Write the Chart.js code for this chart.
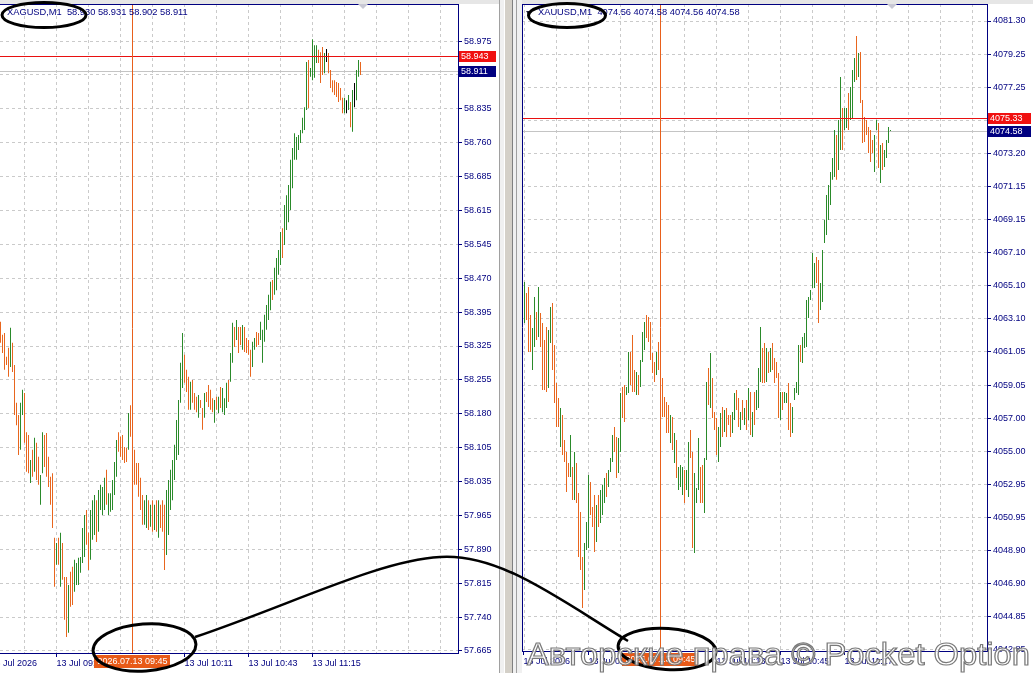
<!DOCTYPE html>
<html><head><meta charset="utf-8">
<script src="https://cdn.jsdelivr.net/npm/chart.js@4.4.1/dist/chart.umd.min.js"></script>
<style>
html,body{margin:0;padding:0;background:#fff;width:1033px;height:673px;overflow:hidden;position:relative;font-family:"Liberation Sans",Arial,sans-serif;}
#c1{position:absolute;left:0;top:0;}
#c2{position:absolute;left:514px;top:0;}
#split{position:absolute;left:499px;top:0;width:23px;height:673px;background:#f0f0f0;}
#split .a{position:absolute;left:0;top:0;width:1px;height:673px;background:#a0a0a0;}
#split .b{position:absolute;left:5px;top:0;width:7px;height:673px;background:#d4d0c8;border-left:1px solid #ffffff;border-right:1px solid #808080;}
#split .c{position:absolute;left:17px;top:0;width:1px;height:673px;background:#a0a0a0;}
#topstrip{position:absolute;left:0;top:0;width:1033px;height:4px;background:#e6e6e6;}
.ttl{position:absolute;top:7px;font-size:9.3px;line-height:10px;color:#000080;white-space:pre;}
svg{position:absolute;}
</style></head>
<body>
<div id="topstrip"></div>
<div id="split"><div class="a"></div><div class="b"></div><div class="c"></div></div>
<canvas id="c1" width="499" height="673"></canvas>
<canvas id="c2" width="519" height="673"></canvas>
<div class="ttl" style="left:7px">XAGUSD,M1  58.930 58.931 58.902 58.911</div>
<div class="ttl" style="left:538px">XAUUSD,M1  4074.56 4074.58 4074.56 4074.58</div>
<svg style="left:0;top:0" width="620" height="32" viewBox="0 0 620 32">
  <polygon points="358,4 368,4 363,9" fill="#c8c8d4"/>
  <polygon points="526,11 530,11 528,14" fill="#202040"/>
  <ellipse cx="44" cy="15" rx="42" ry="12.5" fill="none" stroke="#000" stroke-width="3"/>
  <ellipse cx="567" cy="15.5" rx="38.5" ry="12" fill="none" stroke="#000" stroke-width="3"/>
</svg>
<svg style="left:880px;top:0" width="20" height="12" viewBox="880 0 20 12">
  <polygon points="887,4 897,4 892,9" fill="#c8c8d4"/>
</svg>
<svg style="left:0;top:540px" width="1033" height="133" viewBox="0 540 1033 133">
  <ellipse cx="144.5" cy="647.5" rx="51.5" ry="23.5" fill="none" stroke="#000" stroke-width="3" transform="rotate(-4 144.5 647.5)"/>
  <ellipse cx="667" cy="649" rx="49" ry="20.5" fill="none" stroke="#000" stroke-width="3" transform="rotate(4 667 649)"/>
  <path d="M195,637 C290,605 380,560 440,557 C500,553 560,600 628,641" fill="none" stroke="#000" stroke-width="2.5"/>
  <text x="527" y="665" font-family="Liberation Sans, Arial, sans-serif" font-size="31" textLength="503" lengthAdjust="spacingAndGlyphs" fill="#ffffff" fill-opacity="0.8" stroke="#7a7a7a" stroke-width="1.2">Авторские права © Pocket Option</text>
</svg>
<script>
// ---------- XAGUSD, M1 ----------
const silverHigh = [
58.372,58.344,58.348,58.297,58.316,58.359,58.327,58.279,58.198,58.172,
58.198,58.226,58.219,58.135,58.129,58.075,58.097,58.123,58.112,58.082,
58.043,58.135,58.129,58.133,58.082,58.039,58.047,57.908,57.897,57.908,
57.919,57.897,57.824,57.824,57.807,57.835,57.846,57.861,57.854,57.865,
57.867,57.929,57.957,57.968,57.919,57.968,57.989,58.000,57.989,58.011,
58.022,58.017,58.037,58.054,58.004,58.004,58.032,58.071,58.118,58.135,
58.125,58.129,58.103,58.101,58.176,58.193,58.140,58.097,58.069,58.069,
58.037,58.000,57.989,58.000,57.989,57.979,57.989,57.979,57.989,57.989,
57.979,57.989,57.979,58.011,58.032,58.054,58.075,58.108,58.161,58.204,
58.284,58.348,58.301,58.269,58.254,58.243,58.247,58.219,58.211,58.215,
58.204,58.187,58.219,58.221,58.236,58.226,58.208,58.204,58.211,58.211,
58.232,58.230,58.208,58.241,58.247,58.305,58.370,58.361,58.376,58.361,
58.361,58.365,58.361,58.337,58.333,58.312,58.329,58.337,58.350,58.348,
58.372,58.355,58.387,58.408,58.430,58.458,58.462,58.488,58.509,58.526,
58.565,58.573,58.623,58.644,58.666,58.720,58.745,58.777,58.769,58.773,
58.784,58.810,58.833,58.930,58.934,58.917,58.979,58.966,58.966,58.956,
58.951,58.962,58.949,58.958,58.949,58.913,58.891,58.891,58.887,58.885,
58.874,58.853,58.853,58.848,58.859,58.844,58.870,58.885,58.913,58.934,58.930];
const silverLow = [
58.327,58.305,58.269,58.279,58.254,58.275,58.264,58.172,58.150,58.086,
58.097,58.172,58.112,58.050,58.047,58.026,58.039,58.050,58.032,58.022,
57.979,58.047,58.060,58.039,58.017,57.979,57.929,57.803,57.850,57.850,
57.803,57.818,57.732,57.695,57.704,57.760,57.764,57.792,57.807,57.807,
57.833,57.854,57.867,57.893,57.839,57.861,57.904,57.914,57.899,57.921,
57.968,57.957,57.968,57.979,57.957,57.964,57.968,58.000,58.039,58.093,
58.082,58.075,58.069,58.071,58.097,58.125,58.075,58.022,58.022,57.996,
57.968,57.936,57.936,57.929,57.925,57.932,57.921,57.925,57.921,57.908,
57.929,57.921,57.839,57.871,57.914,57.968,57.989,58.032,58.075,58.086,
58.198,58.230,58.241,58.221,58.183,58.183,58.198,58.183,58.178,58.166,
58.187,58.140,58.166,58.200,58.189,58.183,58.178,58.155,58.183,58.176,
58.187,58.178,58.172,58.187,58.200,58.243,58.284,58.318,58.333,58.305,
58.322,58.312,58.307,58.305,58.301,58.254,58.275,58.312,58.318,58.322,
58.333,58.284,58.329,58.355,58.376,58.397,58.419,58.430,58.440,58.473,
58.494,58.509,58.537,58.569,58.586,58.612,58.659,58.720,58.720,58.741,
58.756,58.777,58.784,58.827,58.831,58.898,58.891,58.896,58.928,58.928,
58.885,58.902,58.906,58.930,58.906,58.874,58.865,58.859,58.855,58.844,
58.848,58.820,58.820,58.820,58.827,58.790,58.780,58.833,58.848,58.898,58.902];
// 1 = up bar, -1 = down bar, 0 = unchanged
const silverDir = [
-1,-1,-1,-1,-1,1,-1,-1,-1,-1, 1,1,-1,-1,-1,1,-1,1,-1,-1,
1,1,-1,-1,-1,-1,-1,-1,1,-1, 1,-1,-1,-1,1,-1,-1,1,1,1,
1,1,1,-1,-1,1,1,1,-1,1, 1,1,1,-1,1,1,1,1,1,-1,
-1,-1,-1,-1,1,-1,-1,-1,-1,-1, -1,-1,1,1,-1,1,-1,1,-1,1,
-1,-1,-1,1,1,1,1,1,1,1, 1,1,-1,-1,-1,1,-1,-1,-1,1,
-1,-1,1,-1,-1,-1,-1,1,-1,1, -1,1,1,1,-1,1,1,-1,1,-1,
-1,1,-1,-1,-1,-1,1,1,-1,-1, 1,1,1,1,1,1,-1,1,1,1,
1,-1,1,1,1,1,1,1,1,1, 1,1,1,1,-1,1,1,1,1,-1,
-1,-1,1,0,-1,-1,-1,-1,-1,-1, -1,-1,1,0,1,-1,1,0,1,1,-1];
const silverPriceLabels = ['58.975','58.905','58.835','58.760','58.685','58.615','58.545','58.470','58.395','58.325','58.255','58.180','58.105','58.035','57.965','57.890','57.815','57.740','57.665'];
const silverTimeIdx = [-5, 28, 92, 124, 156];
const silverTimeLabels = ['13 Jul 2026','13 Jul 09:07','13 Jul 10:11','13 Jul 10:43','13 Jul 11:15'];
const silverGridIdx = [12,28,44,60,76,92,108,124,140,156,172,188,204,220];
const silverAsk = 58.943, silverBid = 58.911;
const silverCrossIdx = 66, silverCrossLabel = '2026.07.13 09:45';

// ---------- XAUUSD, M1 ----------
const goldHigh = [
4065.34,4064.67,4065.04,4063.33,4062.53,4064.43,4063.51,4065.04,4063.45,4062.84,
4061.80,4062.59,4062.41,4063.81,4064.06,4061.49,4059.17,4058.25,4057.64,4057.21,
4055.68,4054.95,4054.28,4055.99,4054.03,4054.95,4054.28,4052.44,4051.28,4048.53,
4049.38,4050.67,4053.54,4053.11,4051.59,4052.32,4051.71,4052.32,4052.63,4052.93,
4053.36,4053.67,4053.85,4054.58,4055.99,4056.48,4055.87,4055.80,4058.56,4058.92,
4059.05,4058.92,4061.06,4061.06,4062.10,4059.96,4059.84,4059.66,4060.57,4062.29,
4062.90,4063.33,4063.20,4062.90,4061.00,4060.45,4061.06,4061.67,4060.88,4059.47,
4058.31,4058.00,4057.82,4057.21,4057.09,4056.11,4055.68,4054.03,4054.15,4054.03,
4053.85,4053.85,4055.56,4056.29,4054.95,4053.67,4052.75,4055.80,4054.03,4054.15,
4054.58,4059.23,4060.09,4061.00,4059.47,4057.39,4057.03,4056.48,4057.33,4057.70,
4057.52,4057.64,4057.21,4057.21,4057.39,4058.56,4058.74,4058.25,4057.39,4058.13,
4057.64,4058.13,4058.86,4058.62,4057.39,4058.62,4058.74,4060.09,4062.59,4061.31,
4061.61,4061.31,4061.06,4061.31,4061.61,4060.70,4060.45,4059.78,4058.62,4058.62,
4058.62,4058.56,4059.17,4057.94,4057.70,4058.86,4059.23,4061.49,4061.49,4061.98,
4062.23,4064.24,4064.43,4064.85,4067.12,4066.50,4066.87,4066.69,4065.28,4067.30,
4069.13,4070.66,4071.27,4072.07,4072.92,4074.64,4074.33,4075.25,4077.88,4075.98,
4075.98,4075.98,4076.90,4077.27,4078.30,4079.04,4080.38,4079.34,4079.40,4076.47,
4075.43,4075.25,4074.82,4074.64,4074.02,4074.33,4075.25,4075.06,4073.72,4073.84,
4073.41,4074.02,4074.82,4074.64];
const goldLow = [
4062.84,4063.02,4061.06,4061.06,4059.96,4061.37,4061.80,4061.98,4061.37,4058.74,
4058.74,4058.62,4058.86,4061.61,4059.96,4057.94,4056.48,4056.48,4055.25,4054.77,
4054.34,4052.50,4053.42,4053.42,4052.01,4052.01,4051.83,4048.53,4047.73,4045.41,
4046.51,4048.96,4049.08,4051.10,4050.36,4048.83,4049.45,4050.36,4050.61,4051.10,
4051.83,4052.20,4052.81,4053.73,4054.34,4054.95,4053.36,4053.67,4054.95,4057.03,
4056.78,4058.43,4058.56,4059.05,4058.62,4058.62,4058.43,4058.43,4058.92,4060.45,
4061.18,4061.92,4061.67,4060.57,4059.78,4059.23,4059.66,4059.96,4059.35,4057.09,
4057.09,4056.11,4056.11,4055.50,4055.07,4054.28,4053.36,4052.63,4052.81,4052.32,
4051.83,4052.63,4052.20,4054.58,4049.08,4048.77,4051.83,4052.63,4051.83,4051.83,
4051.22,4054.46,4057.82,4057.64,4057.03,4056.29,4054.77,4054.34,4055.25,4055.87,
4056.17,4055.87,4056.60,4055.87,4056.11,4056.90,4057.52,4056.48,4056.29,4056.90,
4056.60,4056.29,4056.90,4055.99,4055.87,4056.60,4057.52,4057.64,4059.23,4059.17,
4059.17,4059.23,4059.78,4059.84,4059.96,4059.17,4059.47,4057.03,4056.90,4057.52,
4057.94,4057.94,4056.29,4055.87,4056.11,4058.13,4058.56,4058.43,4060.45,4060.39,
4061.31,4061.37,4063.14,4064.24,4064.97,4064.97,4065.28,4062.84,4063.63,4064.12,
4067.73,4068.22,4069.13,4070.05,4071.59,4071.76,4071.59,4072.19,4073.41,4073.41,
4074.64,4074.76,4074.64,4075.25,4075.37,4077.57,4077.69,4077.88,4076.29,4073.84,
4073.90,4074.33,4073.23,4072.68,4073.23,4072.07,4074.64,4072.31,4071.40,4072.19,
4072.37,4072.92,4073.84,4074.58];
const goldDir = [
1,-1,-1,-1,1,1,-1,1,-1,-1, -1,-1,1,1,-1,-1,-1,-1,1,-1,
-1,-1,-1,1,-1,1,-1,-1,-1,-1, 1,1,1,-1,-1,-1,1,-1,1,1,
1,-1,1,1,1,-1,-1,1,1,-1, -1,1,1,-1,-1,-1,1,-1,1,1,
1,-1,-1,-1,-1,-1,1,-1,-1,-1, -1,-1,-1,1,-1,1,-1,1,1,1,
-1,1,1,-1,-1,1,1,1,-1,-1, 1,1,-1,1,-1,-1,-1,1,1,-1,
1,-1,-1,-1,1,1,-1,-1,1,-1, 1,-1,1,-1,1,-1,1,1,1,-1,
-1,1,-1,1,-1,-1,-1,-1,1,-1, 1,1,-1,-1,1,1,1,1,-1,1,
1,1,1,1,1,1,-1,-1,1,1, 1,1,1,1,1,1,-1,1,1,-1,
1,1,-1,1,1,1,-1,1,-1,-1, -1,-1,-1,-1,-1,1,1,-1,1,-1,
1,1,1,1];
const goldPriceLabels = ['4081.30','4079.25','4077.25','4075.25','4073.20','4071.15','4069.15','4067.10','4065.10','4063.10','4061.05','4059.05','4057.00','4055.00','4052.95','4050.95','4048.90','4046.90','4044.85','4042.85'];
const goldTimeIdx = [-0.5, 32, 96, 128, 160];
const goldTimeLabels = ['13 Jul 2026','13 Jul 09:09','13 Jul 10:13','13 Jul 10:45','13 Jul 11:17'];
const goldGridIdx = [0,16,32,48,64,80,96,112,128,144,160,176,192,208,224];
const goldAsk = 4075.33, goldBid = 4074.58;
const goldCrossIdx = 68, goldCrossLabel = '2026.07.13 09:45';

// ---------- styling ----------
const GREEN = '#2a8a2a', ORANGE = '#e8661e', DOJI = '#000000', NAVY = '#000080', GRID = '#cacaca';
const CROSS = '#e8601c', ALERT = '#e81010', BIDLINE = '#c4c4c4';
const FONT = {family: '"Liberation Sans", Arial, sans-serif', size: 9};
const evenRow = p => Math.round(p / 2) * 2;   // keep 1px coloured lines on even pixel rows

const decor = {
  id: 'mtDecor',
  beforeDatasetsDraw(chart, args, o) {
    const {ctx, chartArea: a, scales: {y}} = chart;
    const yb = Math.round(y.getPixelForValue(o.bid)) + 0.5;
    ctx.save(); ctx.strokeStyle = BIDLINE; ctx.lineWidth = 1;
    ctx.beginPath(); ctx.moveTo(a.left, yb); ctx.lineTo(a.right, yb); ctx.stroke(); ctx.restore();
  },
  afterDatasetsDraw(chart, args, o) {
    const {ctx, chartArea: a, scales: {x, y}} = chart;
    ctx.save(); ctx.lineWidth = 1;
    const ya = evenRow(y.getPixelForValue(o.ask)) + 0.5;
    ctx.strokeStyle = ALERT; ctx.beginPath(); ctx.moveTo(a.left, ya); ctx.lineTo(a.right, ya); ctx.stroke();
    const xc = Math.floor(x.getPixelForValue(o.cross)) + 0.5;
    ctx.strokeStyle = CROSS; ctx.beginPath(); ctx.moveTo(xc, a.top); ctx.lineTo(xc, a.bottom); ctx.stroke();
    ctx.restore();
  },
  afterDraw(chart, args, o) {
    const {ctx, chartArea: a, scales: {x, y}} = chart;
    ctx.save();
    ctx.strokeStyle = NAVY; ctx.lineWidth = 1;
    ctx.beginPath(); ctx.moveTo(a.left, a.top + 0.5); ctx.lineTo(a.right, a.top + 0.5); ctx.stroke();
    if (o.leftBorder) { ctx.beginPath(); ctx.moveTo(a.left + 0.5, a.top); ctx.lineTo(a.left + 0.5, a.bottom); ctx.stroke(); }
    ctx.font = '9px "Liberation Sans", Arial, sans-serif';
    ctx.textBaseline = 'middle'; ctx.textAlign = 'left';
    const box = (val, bg, txt, snap) => {
      const yy = snap ? evenRow(y.getPixelForValue(val)) : Math.round(y.getPixelForValue(val));
      ctx.fillStyle = bg; ctx.fillRect(a.right + 1, yy - 5, o.boxW, 11);
      ctx.fillStyle = '#fff'; ctx.fillText(txt, a.right + 3, yy + 0.5);
    };
    box(o.ask, '#f01010', o.askTxt, true);
    box(o.bid, NAVY, o.bidTxt, false);
    const xc = Math.floor(x.getPixelForValue(o.cross)) + 0.5;
    const w = ctx.measureText(o.crossTxt).width + 6;
    ctx.fillStyle = '#e85a18'; ctx.fillRect(Math.round(xc - w / 2), a.bottom + 2, Math.round(w), 13);
    ctx.fillStyle = '#fff'; ctx.textAlign = 'center'; ctx.fillText(o.crossTxt, xc, a.bottom + 9);
    ctx.restore();
  }
};

function makeChart(id, s) {
  const n = s.labels.length;
  const top = parseFloat(s.labels[0]), bot = parseFloat(s.labels[n - 1]);
  const yTicks = s.labels.map((l, i) => top + (bot - top) * i / (n - 1));
  const labelAt = new Map(s.timeIdx.map((v, i) => [v, s.timeLbl[i]]));
  const gridSet = new Set(s.gridIdx);
  const xTicks = Array.from(new Set([...s.gridIdx, ...s.timeIdx])).sort((p, q) => p - q);
  return new Chart(document.getElementById(id), {
    type: 'bar',
    data: {datasets: [{
      data: s.high.map((h, i) => ({x: i, y: [s.low[i], h]})),
      backgroundColor: s.dir.map(d => d > 0 ? GREEN : (d < 0 ? ORANGE : DOJI)),
      barThickness: 1, inflateAmount: 0, borderWidth: 0
    }]},
    options: {
      responsive: false, devicePixelRatio: 1, animation: false, events: [],
      layout: {padding: s.pad, autoPadding: false},
      plugins: {legend: {display: false}, tooltip: {enabled: false}, mtDecor: s.decor},
      scales: {
        x: {
          type: 'linear', min: s.xMin, max: s.xMax, offset: false,
          afterBuildTicks: sc => { sc.ticks = xTicks.map(v => ({value: v})); },
          afterFit: sc => { sc.height = s.xH; sc.paddingLeft = 0; sc.paddingRight = 0; },
          ticks: {autoSkip: false, maxRotation: 0, minRotation: 0, align: 'start', padding: 1,
                  color: NAVY, font: FONT, callback: v => labelAt.get(v) || ''},
          grid: {offset: false, color: c => gridSet.has(c.tick && c.tick.value) ? GRID : 'rgba(0,0,0,0)',
                 tickColor: c => labelAt.has(c.tick && c.tick.value) ? NAVY : 'rgba(0,0,0,0)', tickLength: 4},
          border: {display: true, color: NAVY, width: 1, dash: [3, 3]}
        },
        y: {
          type: 'linear', position: 'right', min: s.yMin, max: s.yMax, beginAtZero: false,
          afterBuildTicks: sc => { sc.ticks = yTicks.map(v => ({value: v})); },
          afterFit: sc => { sc.width = s.yW; sc.paddingTop = 0; sc.paddingBottom = 0; },
          ticks: {autoSkip: false, padding: 2, color: NAVY, font: FONT, callback: (v, i) => s.labels[i]},
          grid: {color: GRID, tickColor: NAVY, tickLength: 4},
          border: {display: true, color: NAVY, width: 1, dash: [3, 3]}
        }
      }
    },
    plugins: [decor]
  });
}

makeChart('c1', {
  high: silverHigh, low: silverLow, dir: silverDir, labels: silverPriceLabels,
  timeIdx: silverTimeIdx, timeLbl: silverTimeLabels, gridIdx: silverGridIdx,
  xMin: -0.25, xMax: 228.75, yMin: 57.6607, yMax: 59.0545,
  pad: {top: 4, left: 0, right: 0, bottom: 0}, xH: 20, yW: 41,
  decor: {ask: silverAsk, bid: silverBid, askTxt: '58.943', bidTxt: '58.911', boxW: 37,
          cross: silverCrossIdx, crossTxt: silverCrossLabel, leftBorder: false}
});
makeChart('c2', {
  high: goldHigh, low: goldLow, dir: goldDir, labels: goldPriceLabels,
  timeIdx: goldTimeIdx, timeLbl: goldTimeLabels, gridIdx: goldGridIdx,
  xMin: -1.25, xMax: 231.25, yMin: 4042.78, yMax: 4082.34,
  pad: {top: 4, left: 8, right: 0, bottom: 0}, xH: 22, yW: 46,
  decor: {ask: goldAsk, bid: goldBid, askTxt: '4075.33', bidTxt: '4074.58', boxW: 43,
          cross: goldCrossIdx, crossTxt: goldCrossLabel, leftBorder: true}
});
</script>
</body></html>
